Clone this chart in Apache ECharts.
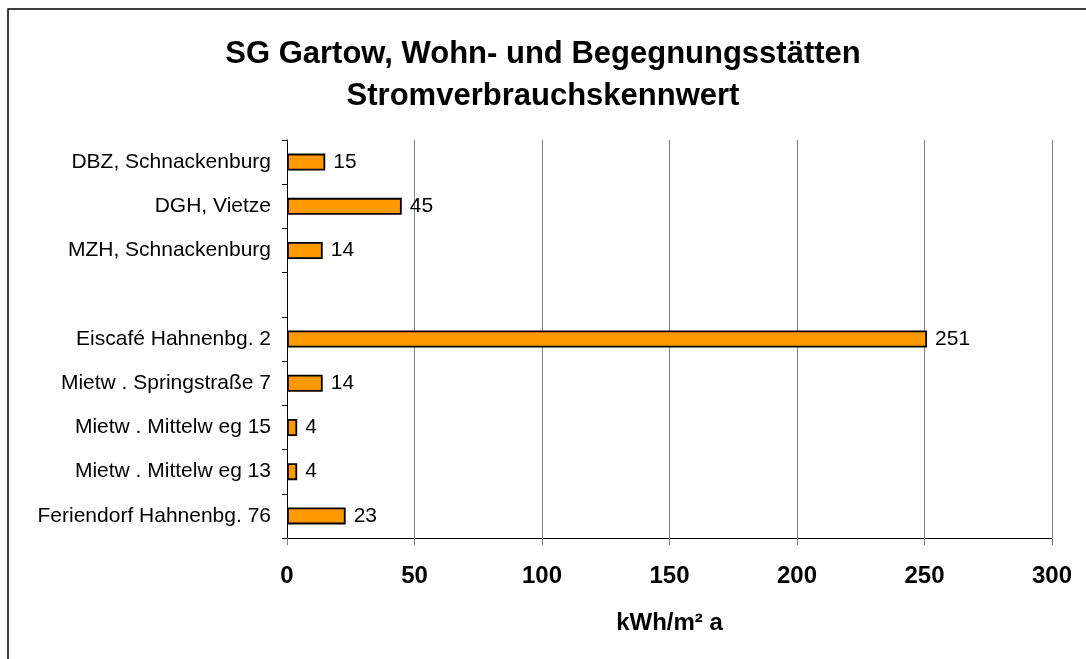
<!DOCTYPE html>
<html>
<head>
<meta charset="utf-8">
<script src="https://cdn.jsdelivr.net/npm/echarts@6/dist/echarts.min.js"></script>
<style>
  html, body { margin: 0; padding: 0; background: #fff; }
  #chart { width: 1086px; height: 659px; }
</style>
</head>
<body>
<div id="chart"></div>
<script>
// Stromverbrauchskennwert je Objekt (kWh/m² a), von oben nach unten
var objekte = [
    'DBZ, Schnackenburg',
    'DGH, Vietze',
    'MZH, Schnackenburg',
    '',
    'Eiscafé Hahnenbg. 2',
    'Mietw . Springstraße 7',
    'Mietw . Mittelw eg 15',
    'Mietw . Mittelw eg 13',
    'Feriendorf Hahnenbg. 76'
];
var kennwerte = [15, 45, 14, '-', 251, 14, 4, 4, 23];
var achseMax = 300;
var achseSchritt = 50;

var schrift = 'Liberation Sans, Arial, sans-serif';

var myChart = echarts.init(document.getElementById('chart'));
var option = {
    backgroundColor: '#fff',
    animation: false,
    title: {
        text: 'SG Gartow, Wohn- und Begegnungsstätten\nStromverbrauchskennwert',
        left: 'center',
        top: 33,
        padding: [0, 0, 0, 18],
        textStyle: {
            fontFamily: schrift,
            fontSize: 31,
            fontWeight: 'bold',
            color: '#000',
            lineHeight: 42
        }
    },
    // Rahmen um das Diagramm
    graphic: [{
        type: 'rect',
        shape: { x: 8, y: 9, width: 1300, height: 900 },
        style: { fill: 'none', stroke: '#000', lineWidth: 1.5 },
        silent: true
    }],
    grid: {
        left: 287,
        right: 34,
        top: 140,
        bottom: 121
    },
    xAxis: {
        type: 'value',
        min: 0,
        max: achseMax,
        interval: achseSchritt,
        name: 'kWh/m² a',
        nameLocation: 'middle',
        nameGap: 73,
        nameTextStyle: {
            fontFamily: schrift,
            fontSize: 24,
            fontWeight: 'bold',
            color: '#000'
        },
        axisLine: { show: true, lineStyle: { color: '#000', width: 1 } },
        axisTick: { show: true, length: 7, lineStyle: { color: '#808080' } },
        axisLabel: {
            margin: 26,
            fontFamily: schrift,
            fontSize: 24,
            fontWeight: 'bold',
            color: '#000'
        },
        splitLine: { show: true, lineStyle: { color: '#808080', width: 1 } }
    },
    yAxis: {
        type: 'category',
        inverse: true,
        data: objekte,
        axisLine: { show: true, lineStyle: { color: '#000', width: 1 } },
        axisTick: { show: true, length: 5, lineStyle: { color: '#000' } },
        axisLabel: {
            margin: 16,
            fontFamily: schrift,
            fontSize: 21,
            color: '#000'
        },
        splitLine: { show: false }
    },
    series: [{
        name: 'Stromverbrauchskennwert',
        type: 'bar',
        data: kennwerte,
        barWidth: 17,
        itemStyle: {
            color: '#FF9900',
            borderColor: '#000',
            borderWidth: 1.8
        },
        label: {
            show: true,
            position: 'right',
            distance: 8,
            fontFamily: schrift,
            fontSize: 21,
            color: '#000'
        }
    }]
};
myChart.setOption(option);
</script>
</body>
</html>
